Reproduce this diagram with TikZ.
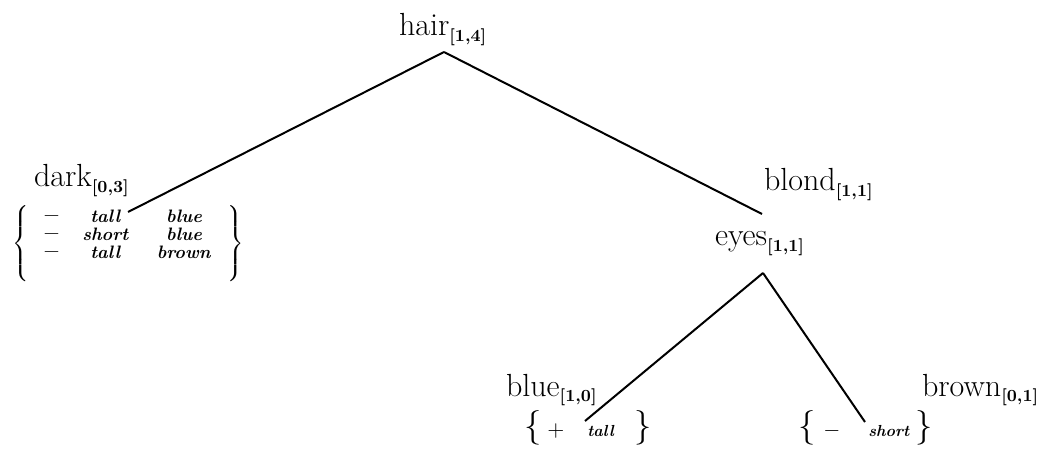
\documentclass[tikz,border=0pt]{standalone}
\usepackage{amsmath}
\newcommand{\bi}[1]{\textbf{\textit{#1}}}
\newcommand{\cnt}[1]{$_{\mbox{\fontsize{8.5}{8.5}\selectfont\bfseries[#1]}}$}
\newcommand{\negdash}{\mbox{\fontsize{12}{12}\selectfont\bfseries --}}

\begin{document}
\begin{tikzpicture}[x=0.5pt, y=-0.5pt, line width=1pt,
  lbl/.style={inner sep=0pt, anchor=base west, font=\fontsize{16}{18}\selectfont},
  vals/.style={inner sep=0pt, font=\fontsize{9}{9}\selectfont},
  pair/.style={inner sep=0pt, anchor=base west, font=\fontsize{16}{18}\selectfont}]
  \useasboundingbox (0,0) rectangle (1043,464);

  % Attribute and value labels
  \node[lbl] (hair)  at (398,36)  {hair\cnt{1,4}};
  \node[lbl] (dark)  at (33,187)  {dark\cnt{0,3}};
  \node[lbl] (blond) at (763,191) {blond\cnt{1,1}};
  \node[lbl] (eyes)  at (714,246) {eyes\cnt{1,1}};
  \node[lbl] (blue)  at (505,396) {blue\cnt{1,0}};
  \node[lbl] (brown) at (921,396) {brown\cnt{0,1}};

  % Example sets
  \node[vals] (darkset) at (128,243)
    {$\left\{\vphantom{\rule[-17pt]{0pt}{39pt}}\raisebox{3.5pt}{$\begin{array}{@{\hspace{8pt}}c@{\hspace{12pt}}c@{\hspace{14pt}}c@{\hspace{8pt}}}
      \negdash & \bi{tall}  & \bi{blue}  \\
      \negdash & \bi{short} & \bi{blue}  \\
      \negdash & \bi{tall}  & \bi{brown}
    \end{array}$}\right\}$};
  \node[pair] (blueset) at (523,436)
    {$\{$\hspace{3pt}{\fontsize{11}{11}\selectfont$+$}\hspace{11.5pt}{\fontsize{8}{8}\selectfont\bi{tall}}\hspace{10pt}$\}$};
  \node[pair] (brownset) at (797,436)
    {$\{$\hspace{4pt}{\fontsize{11}{11}\selectfont$-$}\hspace{14pt}{\fontsize{8}{8}\selectfont\bi{short}}\hspace{3pt}$\}$};

  % Branch points
  \coordinate (hairfork) at (444,52);
  \coordinate (darkend)  at (128,212);
  \coordinate (blondend) at (762,214);
  \coordinate (eyesfork) at (763,273);
  \coordinate (blueend)  at (585,421);
  \coordinate (brownend) at (865,422);

  \draw (hairfork) -- (darkend);
  \draw (hairfork) -- (blondend);
  \draw (eyesfork) -- (blueend);
  \draw (eyesfork) -- (brownend);
\end{tikzpicture}
\end{document}
